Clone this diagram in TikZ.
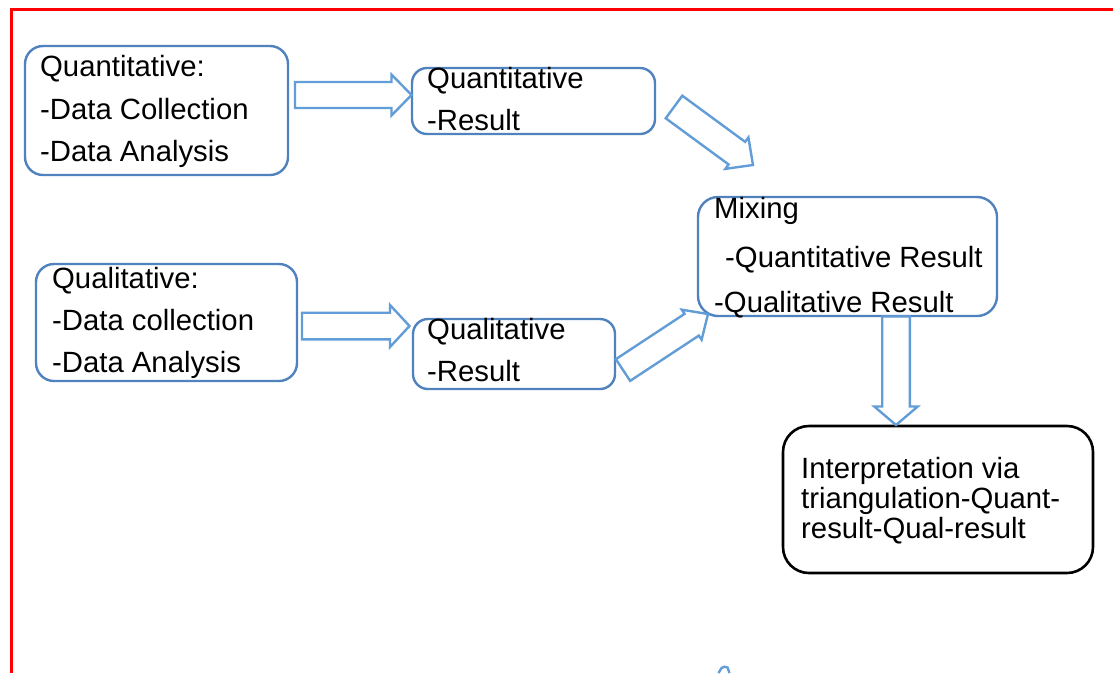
\documentclass[tikz,border=0pt]{standalone}
\usepackage{fontspec}
\setmainfont{Liberation Sans}
\usetikzlibrary{calc}

\definecolor{boxblue}{RGB}{80,130,190}
\definecolor{arrblue}{RGB}{98,157,215}
\definecolor{framered}{RGB}{255,0,0}

\tikzset{
  bluebox/.style={draw=boxblue, line width=2.4pt, rounded corners=#1, inner sep=0pt},
  bluebox/.default=18pt,
  blackbox/.style={draw=black, line width=2.6pt, rounded corners=26pt, inner sep=0pt},
  lbl/.style={anchor=base west, inner sep=0pt, font=\fontsize{29.3}{35}\selectfont},
  arrline/.style={draw=arrblue, line width=2.4pt, line join=miter},
  frameline/.style={draw=framered, line width=3pt},
}

% hollow block arrow from tail #1 to tip #2:
% #3 half body width, #4 half head width, #5 head length
\newcommand\blockarrow[5]{%
  \path let \p1=($(#2)-(#1)$) in
    \pgfextra{\pgfmathsetmacro\baangtmp{atan2(\y1,\x1)}%
      \pgfmathsetmacro\balentmp{veclen(\x1,\y1)}%
      \global\let\baang\baangtmp\global\let\balen\balentmp};
  \draw[arrline, shift={(#1)}, rotate=\baang]
    (0,-#3) -- ({\balen-#5},-#3) -- ({\balen-#5},-#4) -- (\balen,0)
    -- ({\balen-#5},#4) -- ({\balen-#5},#3) -- (0,#3) -- cycle;
}

\begin{document}
\begin{tikzpicture}[x=1pt, y=-1pt]
\useasboundingbox (0,0) rectangle (1113,673);

% page frame
\draw[frameline] (11,673) -- (11,9.5) -- (1113,9.5);

% boxes
\node[bluebox, minimum width=263pt, minimum height=129pt] (quantin) at (156.5,110.5) {};
\node[bluebox=15pt, minimum width=243pt, minimum height=66pt] (quantres) at (533.5,101) {};
\node[bluebox=20pt, minimum width=299pt, minimum height=119pt] (mixing) at (847.5,256.5) {};
\node[bluebox, minimum width=261pt, minimum height=117pt] (qualin) at (166.5,322.5) {};
\node[bluebox=15pt, minimum width=202pt, minimum height=70pt] (qualres) at (514,354) {};
\node[blackbox, minimum width=310pt, minimum height=147pt] (interp) at (938,499.5) {};

% box texts
\node[lbl] (t11) at (40,76) {Quantitative:};
\node[lbl] (t12) at (40,119) {-Data Collection};
\node[lbl] (t13) at (40,161) {-Data Analysis};

\node[lbl] (t21) at (427,88) {Quantitative};
\node[lbl] (t22) at (427,130) {-Result};

\node[lbl] (t31) at (714,218) {Mixing};
\node[lbl] (t32) at (725,267) {-Quantitative Result};
\node[lbl] (t33) at (714,312) {-Qualitative Result};

\node[lbl] (t41) at (52,288) {Qualitative:};
\node[lbl] (t42) at (52,330) {-Data collection};
\node[lbl] (t43) at (52,372) {-Data Analysis};

\node[lbl] (t51) at (427,339) {Qualitative};
\node[lbl] (t52) at (427,381) {-Result};

\node[lbl] (t61) at (801,478) {Interpretation via};
\node[lbl] (t62) at (801,508) {triangulation-Quant-};
\node[lbl] (t63) at (801,538) {result-Qual-result};

% arrow end points
\coordinate (a1s) at (295,95);
\coordinate (a1e) at (411.5,95);
\coordinate (a2s) at (302,326);
\coordinate (a2e) at (409.5,326);
\coordinate (a3s) at (674,107);
\coordinate (a3e) at (753,165);
\coordinate (a4s) at (623,370);
\coordinate (a4e) at (708,314);
\coordinate (a5s) at (896,316.5);
\coordinate (a5e) at (896,425);

% block arrows
\blockarrow{a1s}{a1e}{13}{20.5}{20}
\blockarrow{a2s}{a2e}{13.3}{21}{19.5}
\blockarrow{a3s}{a3e}{14}{19.5}{20}
\blockarrow{a4s}{a4e}{13}{18}{19.5}
\blockarrow{a5s}{a5e}{13.8}{21.7}{18.5}

% edge of a shape running off the page
\draw[arrline] (718.5,673) -- (721.5,668) .. controls (724,666.5) .. (727.5,667.5) -- (729.5,673);
\end{tikzpicture}
\end{document}
